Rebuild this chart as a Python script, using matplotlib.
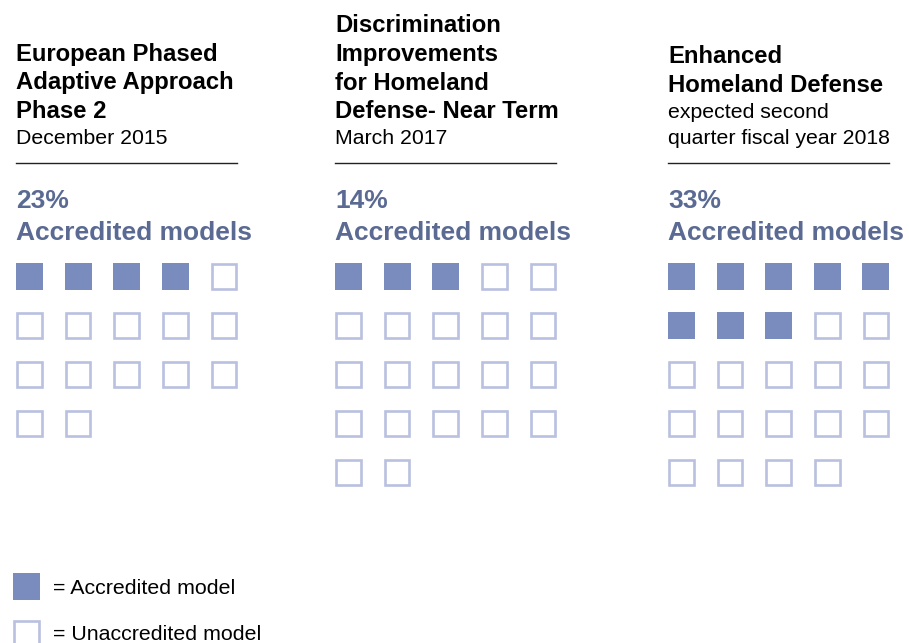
import matplotlib.pyplot as plt
from matplotlib.patches import Rectangle

plt.rcParams['font.family'] = ['Liberation Sans', 'DejaVu Sans']

# data
titles = [
    ["European Phased", "Adaptive Approach", "Phase 2"],
    ["Discrimination", "Improvements", "for Homeland", "Defense- Near Term"],
    ["Enhanced", "Homeland Defense"],
]
subtitles = [
    ["December 2015"],
    ["March 2017"],
    ["expected second", "quarter fiscal year 2018"],
]
percents = ["23%", "14%", "33%"]
accredited = [4, 3, 8]
total_models = [17, 22, 24]

# colours
fill_col = '#7a8bbd'
edge_col = '#b9c0e0'
pct_col = '#5a6a92'

W, H = 909, 643
fig = plt.figure(figsize=(W / 100, H / 100), dpi=100)
ax = fig.add_axes([0, 0, 1, 1])
ax.set_xlim(0, W)
ax.set_ylim(H, 0)
ax.axis('off')

panel_x = [16, 335, 668]
line_h = 29
sq = 27
step = 48.6
ncols = 5

for p in range(3):
    x0 = panel_x[p]
    n_sub = len(subtitles[p])
    n_title = len(titles[p])
    # baselines are stacked upward from the rule line
    sub_base = [144.5 - 26.5 * (n_sub - 1 - i) for i in range(n_sub)]
    top_sub = sub_base[0]
    title_base = [top_sub - 26 - line_h * (n_title - 1 - i) for i in range(n_title)]
    for t, b in zip(titles[p], title_base):
        ax.text(x0, b, t, fontsize=17.2, fontweight='bold', va='baseline', ha='left', color='#000000')
    for t, b in zip(subtitles[p], sub_base):
        ax.text(x0, b, t, fontsize=15.3, va='baseline', ha='left', color='#000000')
    ax.plot([x0, x0 + 221], [163, 163], color='#222222', lw=1.0)

    ax.text(x0, 207.5, percents[p], fontsize=19, fontweight='bold', va='baseline', color=pct_col)
    ax.text(x0, 240.5, "Accredited models", fontsize=19, fontweight='bold', va='baseline', color=pct_col)

    for i in range(total_models[p]):
        r, c = divmod(i, ncols)
        x = x0 + c * step
        y = 263 + r * 49
        if i < accredited[p]:
            ax.add_patch(Rectangle((x, y), sq, sq, facecolor=fill_col, edgecolor='none'))
        else:
            ax.add_patch(Rectangle((x + 1.2, y + 1.2), sq - 2.4, sq - 2.4, facecolor='white',
                                   edgecolor=edge_col, lw=1.9))

# legend
ax.add_patch(Rectangle((13, 573), sq, sq, facecolor=fill_col, edgecolor='none'))
ax.add_patch(Rectangle((14.2, 621.2), sq - 2.4, sq - 2.4, facecolor='white', edgecolor=edge_col, lw=1.9))
ax.text(53, 593.5, "= Accredited model", fontsize=15.4, va='baseline', color='#000000')
ax.text(53, 639.5, "= Unaccredited model", fontsize=15.4, va='baseline', color='#000000')

fig.savefig('out.png', dpi=100)
